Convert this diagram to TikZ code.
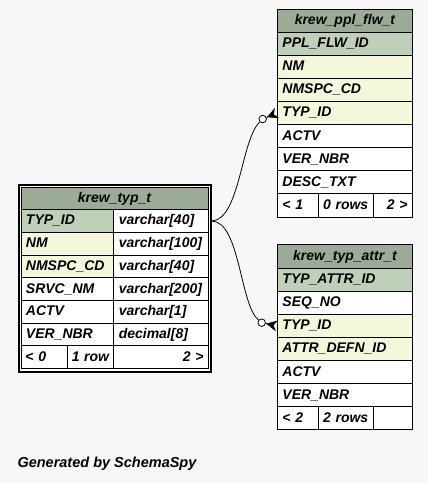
\documentclass[tikz,border=0pt]{standalone}
\usepackage{fontspec}
\setmainfont{Liberation Sans}
\usetikzlibrary{arrows.meta}
\definecolor{bgc}{HTML}{F7F7F7}
\definecolor{hdrc}{HTML}{9BAB96}
\definecolor{pkc}{HTML}{BED1B8}
\definecolor{idxc}{HTML}{F4F7DA}
\newcommand\tabfont{\fontsize{14pt}{16pt}\selectfont\bfseries\itshape}
\newcommand\rowstrut{\rule[-3.1pt]{0pt}{14.1pt}}
\tikzset{
  cell/.style={draw=black, line width=0.9pt, anchor=north west, inner ysep=0pt,
    inner xsep=5pt, minimum height=23.1pt, font=\tabfont, align=left,
    execute at begin node=\rowstrut},
  hdr/.style={cell, fill=hdrc, align=center},
  pkrow/.style={cell, fill=pkc},
  idxrow/.style={cell, fill=idxc},
  plainrow/.style={cell, fill=white},
  rfoot/.style={cell, fill=white, align=right},
  frame/.style={draw=black, line width=2pt, fill=white, anchor=north west,
    inner sep=0pt, minimum width=192pt, minimum height=186.5pt},
  odot/.style={circle, draw=black, fill=white, line width=0.8pt,
    minimum size=7.5pt, inner sep=0pt},
  conn/.style={draw=black, line width=0.8pt},
  crow/.style={-{Stealth[reversed, length=11pt, width=11pt, inset=3.5pt]}},
}
\begin{document}
\begin{tikzpicture}[x=1pt, y=-1pt]
\fill[bgc] (0,0) rectangle (428,483);
\useasboundingbox (0,0) rectangle (428,483);

% ---- krew_ppl_flw_t ----
\node[hdr, minimum height=22.7pt, text width=125pt] (ppl-h) at (277,9) {krew\_ppl\_flw\_t};
\node[pkrow, text width=125pt] (ppl-1) at (277,31.7) {PPL\_FLW\_ID};
\node[idxrow, text width=125pt] (ppl-2) at (277,54.8) {NM};
\node[idxrow, text width=125pt] (ppl-3) at (277,77.9) {NMSPC\_CD};
\node[idxrow, text width=125pt] (ppl-4) at (277,101) {TYP\_ID};
\node[plainrow, text width=125pt] (ppl-5) at (277,124.1) {ACTV};
\node[plainrow, text width=125pt] (ppl-6) at (277,147.2) {VER\_NBR};
\node[plainrow, text width=125pt] (ppl-7) at (277,170.3) {DESC\_TXT};
\node[plainrow, text width=30.7pt] (ppl-f1) at (277,193.4) {<~1};
\node[plainrow, text width=45pt] (ppl-f2) at (317.7,193.4) {0~rows};
\node[rfoot, text width=29.3pt] (ppl-f3) at (372.7,193.4) {2~>};

% ---- krew_typ_attr_t ----
\node[hdr, minimum height=23.7pt, text width=125pt] (attr-h) at (277,244) {krew\_typ\_attr\_t};
\node[pkrow, text width=125pt] (attr-1) at (277,267.7) {TYP\_ATTR\_ID};
\node[plainrow, text width=125pt] (attr-2) at (277,290.8) {SEQ\_NO};
\node[idxrow, text width=125pt] (attr-3) at (277,313.9) {TYP\_ID};
\node[idxrow, text width=125pt] (attr-4) at (277,337) {ATTR\_DEFN\_ID};
\node[plainrow, text width=125pt] (attr-5) at (277,360.1) {ACTV};
\node[plainrow, text width=125pt] (attr-6) at (277,383.2) {VER\_NBR};
\node[plainrow, text width=30.7pt] (attr-f1) at (277,406.3) {<~2};
\node[plainrow, text width=45pt] (attr-f2) at (317.7,406.3) {2~rows};
\node[plainrow, text width=29.3pt] (attr-f3) at (372.7,406.3) {};

% ---- krew_typ_t ----
\node[frame] (typ-frame) at (18,184) {};
\node[hdr, minimum height=22.7pt, text width=177pt] (typ-h) at (20.5,186.5) {krew\_typ\_t};
\node[pkrow, minimum height=22.7pt, text width=82.8pt] (typ-1) at (20.5,209.2) {TYP\_ID};
\node[plainrow, minimum height=22.7pt, text width=84.2pt] (typ-2) at (113.3,209.2) {varchar[40]};
\node[idxrow, minimum height=22.7pt, text width=82.8pt] (typ-3) at (20.5,231.9) {NM};
\node[plainrow, minimum height=22.7pt, text width=84.2pt] (typ-4) at (113.3,231.9) {varchar[100]};
\node[idxrow, minimum height=22.7pt, text width=82.8pt] (typ-5) at (20.5,254.6) {NMSPC\_CD};
\node[plainrow, minimum height=22.7pt, text width=84.2pt] (typ-6) at (113.3,254.6) {varchar[40]};
\node[plainrow, minimum height=22.7pt, text width=82.8pt] (typ-7) at (20.5,277.3) {SRVC\_NM};
\node[plainrow, minimum height=22.7pt, text width=84.2pt] (typ-8) at (113.3,277.3) {varchar[200]};
\node[plainrow, minimum height=22.7pt, text width=82.8pt] (typ-9) at (20.5,300) {ACTV};
\node[plainrow, minimum height=22.7pt, text width=84.2pt] (typ-10) at (113.3,300) {varchar[1]};
\node[plainrow, minimum height=22.7pt, text width=82.8pt] (typ-11) at (20.5,322.7) {VER\_NBR};
\node[plainrow, minimum height=22.7pt, text width=84.2pt] (typ-12) at (113.3,322.7) {decimal[8]};
\node[plainrow, minimum height=22.7pt, text width=37.8pt, inner xsep=4.5pt] (typ-f1) at (20.5,345.4) {<~0};
\node[plainrow, minimum height=22.7pt, text width=38pt, inner xsep=4pt] (typ-f2) at (67.3,345.4) {1~row};
\node[rfoot, minimum height=22.7pt, text width=85.2pt, inner xsep=4.5pt] (typ-f3) at (113.3,345.4) {2~>};

% ---- connectors ----
\node[odot] (c1) at (262.7,119) {};
\node[odot] (c2) at (261.7,322.7) {};
\coordinate (src) at (typ-2.east -| typ-frame.east);
\draw[conn] (src) .. controls (240,219) and (241,140) .. (c1);
\draw[conn] (src) .. controls (240,222) and (240,305) .. (c2);
\draw[conn, crow] (c1) -- (ppl-4.west);
\draw[conn, crow] (c2) -- (attr-3.west);

\node[anchor=base west, font=\fontsize{14.5pt}{17pt}\selectfont\bfseries\itshape] (gen) at (14,467.5) {Generated by SchemaSpy};
\end{tikzpicture}
\end{document}
